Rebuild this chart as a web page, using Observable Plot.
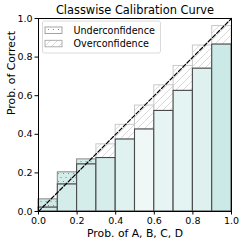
<!DOCTYPE html>
<html><head><meta charset="utf-8">
<script src="https://cdn.jsdelivr.net/npm/d3@7"></script>
<script src="https://cdn.jsdelivr.net/npm/@observablehq/plot@0.6"></script>
<style>body{margin:0;background:#fff} svg{display:block}</style>
</head><body><div id="chart"></div>
<script>
const binEdges = [0, 0.1, 0.2, 0.3, 0.4, 0.5, 0.6, 0.7, 0.8, 0.9, 1.0];
const accuracy = [0.02, 0.14, 0.244, 0.277, 0.373, 0.425, 0.521, 0.625, 0.74, 0.865];
const confidence = [0.063, 0.203, 0.27, 0.348, 0.449, 0.549, 0.654, 0.754, 0.86, 0.961];
const density = [0.9, 0.75, 0.75, 0.7, 0.45, 0.1, 0.3, 0.35, 0.5, 0.95];
const gapType = ["Underconfidence", "Underconfidence", "Underconfidence", "Overconfidence", "Overconfidence",
                 "Overconfidence", "Overconfidence", "Overconfidence", "Overconfidence", "Overconfidence"];
const legendLabels = ["Underconfidence", "Overconfidence"];
const xTicks = [0, 0.2, 0.4, 0.6, 0.8, 1.0];
const yTicks = [0, 0.2, 0.4, 0.6, 0.8, 1.0];
const diagonal = [0, 1];
const titleText = "Classwise Calibration Curve";
const xLabel = "Prob. of A, B, C, D";
const yLabel = "Prob. of Correct";

const FONT = "'DejaVu Sans', sans-serif";
const bins = accuracy.map((a, i) => ({
  x1: binEdges[i], x2: binEdges[i + 1], acc: a, conf: confidence[i], density: density[i], type: gapType[i]
}));
const under = bins.filter(d => d.type === "Underconfidence");
const over = bins.filter(d => d.type === "Overconfidence");

const plot = Plot.plot({
  width: 244,
  height: 245,
  marginLeft: 38,
  marginRight: 13,
  marginTop: 18,
  marginBottom: 34,
  style: "font-family: 'DejaVu Sans', sans-serif; font-size: 9.4px; background: white; color: black;",
  x: {domain: [0, 1]},
  y: {domain: [0, 1]},
  color: {type: "linear", domain: [0, 1], range: ["#f3faf9", "#c9e8e5"]},
  marks: [
    Plot.rect(under, {x1: "x1", x2: "x2", y1: "acc", y2: "conf", fill: "density"}),
    Plot.rect(over, {x1: "x1", x2: "x2", y1: "acc", y2: "conf", fill: "white"}),
    Plot.rect(under, {x1: "x1", x2: "x2", y1: "acc", y2: "conf", fill: "url(#dots)", stroke: "#888888", strokeWidth: 1}),
    Plot.rect(over, {x1: "x1", x2: "x2", y1: "acc", y2: "conf", fill: "url(#hatch)", stroke: "#c8c8c8", strokeWidth: 1}),
    Plot.rect(bins, {x1: "x1", x2: "x2", y1: 0, y2: "acc", fill: "density", stroke: "#4a4a4a", strokeWidth: 1.1}),
    Plot.line(diagonal, {x: d => d, y: d => d, stroke: "black", strokeWidth: 1.2, strokeDasharray: "4,2"}),
    Plot.frame({stroke: "black", strokeWidth: 1}),
    Plot.axisX({ticks: xTicks, tickFormat: ".1f", tickSize: 3.5, tickPadding: 2, label: null, fontSize: 9.5, fontFamily: FONT}),
    Plot.axisY({ticks: yTicks, tickFormat: ".1f", tickSize: 3.5, tickPadding: 2.5, label: null, fontSize: 9.5, fontFamily: FONT}),
    Plot.text([titleText], {text: d => d, frameAnchor: "top", dy: -8, fontSize: 11.4, fontFamily: FONT, lineAnchor: "middle"}),
    Plot.text([xLabel], {text: d => d, frameAnchor: "bottom", dy: 22, fontSize: 10.8, fontFamily: FONT, lineAnchor: "middle"}),
    Plot.text([yLabel], {text: d => d, frameAnchor: "left", dx: -27, rotate: -90, fontSize: 10.8, fontFamily: FONT, lineAnchor: "middle"})
  ]
});

const svg = d3.select(plot);
const defs = svg.insert("defs", ":first-child");
const dots = defs.append("pattern").attr("id", "dots").attr("patternUnits", "userSpaceOnUse")
  .attr("width", 5).attr("height", 8);
[[1, 1.5], [3.5, 5.5]].forEach(([cx, cy]) =>
  dots.append("circle").attr("cx", cx).attr("cy", cy).attr("r", 0.6).attr("fill", "#7a7a7a"));
const hatch = defs.append("pattern").attr("id", "hatch").attr("patternUnits", "userSpaceOnUse")
  .attr("width", 7).attr("height", 7);
hatch.append("path").attr("d", "M-1,1 L1,-1 M0,7 L7,0 M6,8 L8,6")
  .attr("stroke", "#cfcfcf").attr("stroke-width", 0.8);

// legend
const lg = svg.append("g").attr("font-family", FONT).attr("font-size", "9.6px").attr("text-anchor", "start");
lg.append("rect").attr("x", 42.5).attr("y", 21).attr("width", 118).attr("height", 32).attr("rx", 2)
  .attr("fill", "white").attr("fill-opacity", 0.85).attr("stroke", "#d0d0d0").attr("stroke-width", 0.8);
legendLabels.forEach((lab, i) => {
  const y = 27 + i * 13.3;
  lg.append("rect").attr("x", 45).attr("y", y).attr("width", 17).attr("height", 6.5).attr("fill", "white");
  lg.append("rect").attr("x", 45).attr("y", y).attr("width", 17).attr("height", 6.5)
    .attr("fill", lab === "Underconfidence" ? "url(#dots)" : "url(#hatch)")
    .attr("stroke", lab === "Underconfidence" ? "#9a9a9a" : "#a8a8a8").attr("stroke-width", 0.9);
  lg.append("text").attr("x", 73.5).attr("y", y + 3.3).attr("dy", "0.35em").attr("fill", "black")
    .attr("text-anchor", "start").text(lab);
});

document.getElementById("chart").appendChild(plot);
</script>
</body></html>
